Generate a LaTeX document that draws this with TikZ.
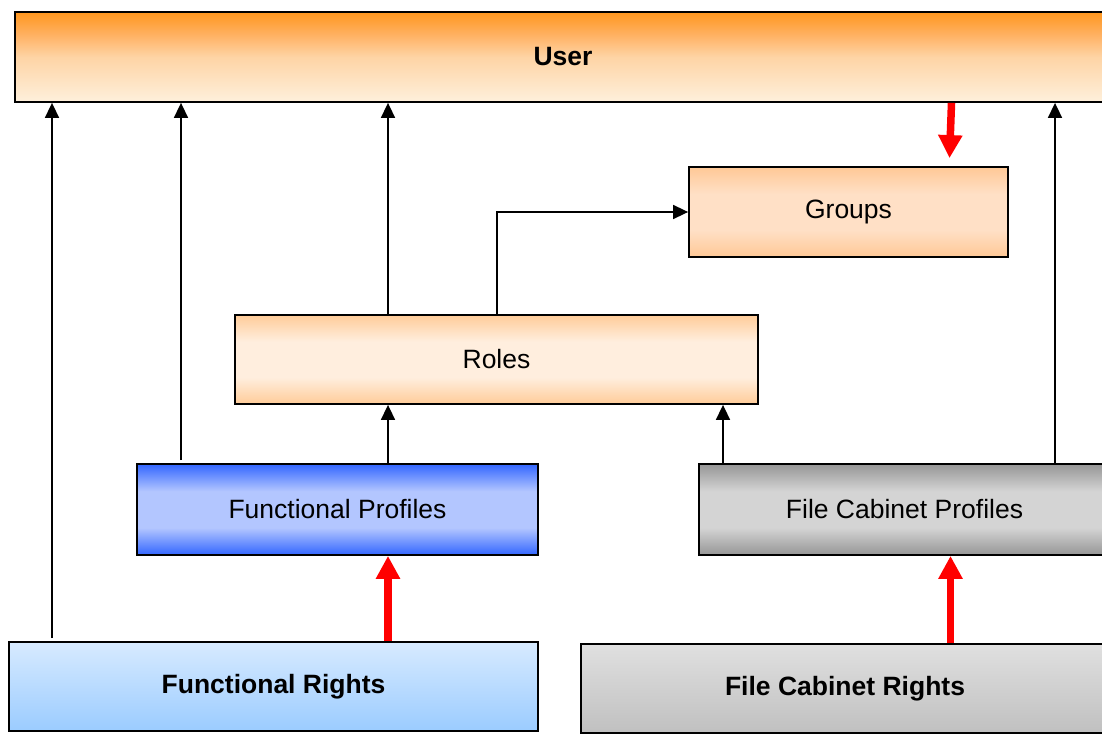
\documentclass[tikz,border=0pt]{standalone}
\usepackage{fontspec}
\setmainfont{Liberation Sans}
\usetikzlibrary{arrows.meta}

\definecolor{userTop}{RGB}{255,150,30}
\definecolor{userUp}{RGB}{255,178,100}
\definecolor{userMid}{RGB}{254,212,165}
\definecolor{userBot}{RGB}{254,240,220}
\definecolor{peachEdge}{RGB}{255,200,150}
\definecolor{peachMid}{RGB}{255,224,198}
\definecolor{rolesEdge}{RGB}{255,204,153}
\definecolor{rolesMid}{RGB}{255,238,222}
\definecolor{blueEdge}{RGB}{51,102,255}
\definecolor{blueMid}{RGB}{179,198,255}
\definecolor{greyEdge}{RGB}{150,150,150}
\definecolor{greyMid}{RGB}{212,212,212}
\definecolor{skyTop}{RGB}{215,234,255}
\definecolor{skyBot}{RGB}{155,204,255}
\definecolor{silverTop}{RGB}{224,224,224}
\definecolor{silverBot}{RGB}{192,192,192}
\definecolor{arrowRed}{RGB}{255,0,0}

% vertical shadings: 25bp = lower edge, 75bp = upper edge of the filled box
\pgfdeclareverticalshading{userfill}{100bp}{color(0bp)=(userBot); color(25bp)=(userBot);
  color(50bp)=(userMid); color(62bp)=(userUp); color(75bp)=(userTop); color(100bp)=(userTop)}
\pgfdeclareverticalshading{peachfill}{100bp}{color(0bp)=(peachEdge); color(25bp)=(peachEdge);
  color(40bp)=(peachMid); color(60bp)=(peachMid); color(75bp)=(peachEdge); color(100bp)=(peachEdge)}
\pgfdeclareverticalshading{rolesfill}{100bp}{color(0bp)=(rolesEdge); color(25bp)=(rolesEdge);
  color(40bp)=(rolesMid); color(60bp)=(rolesMid); color(75bp)=(rolesEdge); color(100bp)=(rolesEdge)}
\pgfdeclareverticalshading{bluefill}{100bp}{color(0bp)=(blueEdge); color(25bp)=(blueEdge);
  color(40bp)=(blueMid); color(60bp)=(blueMid); color(75bp)=(blueEdge); color(100bp)=(blueEdge)}
\pgfdeclareverticalshading{greyfill}{100bp}{color(0bp)=(greyEdge); color(25bp)=(greyEdge);
  color(40bp)=(greyMid); color(60bp)=(greyMid); color(75bp)=(greyEdge); color(100bp)=(greyEdge)}
\pgfdeclareverticalshading{skyfill}{100bp}{color(0bp)=(skyBot); color(25bp)=(skyBot);
  color(75bp)=(skyTop); color(100bp)=(skyTop)}
\pgfdeclareverticalshading{silverfill}{100bp}{color(0bp)=(silverBot); color(25bp)=(silverBot);
  color(75bp)=(silverTop); color(100bp)=(silverTop)}

\begin{document}
\begin{tikzpicture}[x=1pt,y=-1pt,
  box/.style={draw=black, line width=1.8pt, inner sep=0pt,
    font=\fontsize{26.5}{30}\selectfont, align=center},
  userbox/.style={box, shading=userfill},
  peachbox/.style={box, shading=peachfill},
  rolesbox/.style={box, shading=rolesfill},
  bluebox/.style={box, shading=bluefill},
  greybox/.style={box, shading=greyfill},
  skybox/.style={box, shading=skyfill},
  silverbox/.style={box, shading=silverfill},
  blk/.style={draw=black, line width=1.6pt, -{Triangle[length=15pt,width=14pt]}},
  redarr/.style={draw=arrowRed, line width=7.5pt, -{Triangle[length=23pt,width=23pt]}}
]
\useasboundingbox (0,0) rectangle (1102,733);
\clip (0,0) rectangle (1102,733);

% boxes
\node[userbox, minimum width=1096pt, minimum height=90pt] (user) at (563,57) {\bfseries User};
\node[peachbox, minimum width=319pt, minimum height=90pt] (groups) at (848.5,212) {Groups};
\node[rolesbox, minimum width=523pt, minimum height=89pt] (roles) at (496.5,359.5) {Roles};
\node[bluebox, minimum width=401pt, minimum height=91pt] (fp) at (337.5,509.5) {Functional Profiles};
\node[greybox, minimum width=411pt, minimum height=91pt] (fcp) at (904.5,509.5) {File Cabinet Profiles};
\node[skybox, minimum width=529pt, minimum height=89pt] (fr) at (273.5,686.5) {\bfseries Functional Rights};
\node[silverbox, minimum width=528pt, minimum height=89pt] (fcr) at (845,688.5) {\bfseries File Cabinet Rights};

% connector columns
\coordinate (xA) at (52,0);
\coordinate (xB) at (181,0);
\coordinate (xC) at (388,0);
\coordinate (xD) at (497,0);
\coordinate (xE) at (723,0);
\coordinate (xF) at (950.5,0);
\coordinate (xG) at (1055,0);

% black connectors
\draw[blk] ([yshift=3pt]xA |- fr.north) -- (xA |- user.south);
\draw[blk] ([yshift=3pt]xB |- fp.north) -- (xB |- user.south);
\draw[blk] (xC |- roles.north) -- (xC |- user.south);
\draw[blk] (xD |- roles.north) |- (groups.west);
\draw[blk] (xC |- fp.north) -- (xC |- roles.south);
\draw[blk] (xE |- fcp.north) -- (xE |- roles.south);
\draw[blk] (xG |- fcp.north) -- (xG |- user.south);

% red connectors
\draw[redarr] (xC |- fr.north) -- (xC |- fp.south);
\draw[redarr] (xF |- fcr.north) -- (xF |- fcp.south);
\draw[redarr] ([xshift=1pt]xF |- user.south) -- ([xshift=-1pt,yshift=8pt]xF |- groups.north);
\end{tikzpicture}
\end{document}
